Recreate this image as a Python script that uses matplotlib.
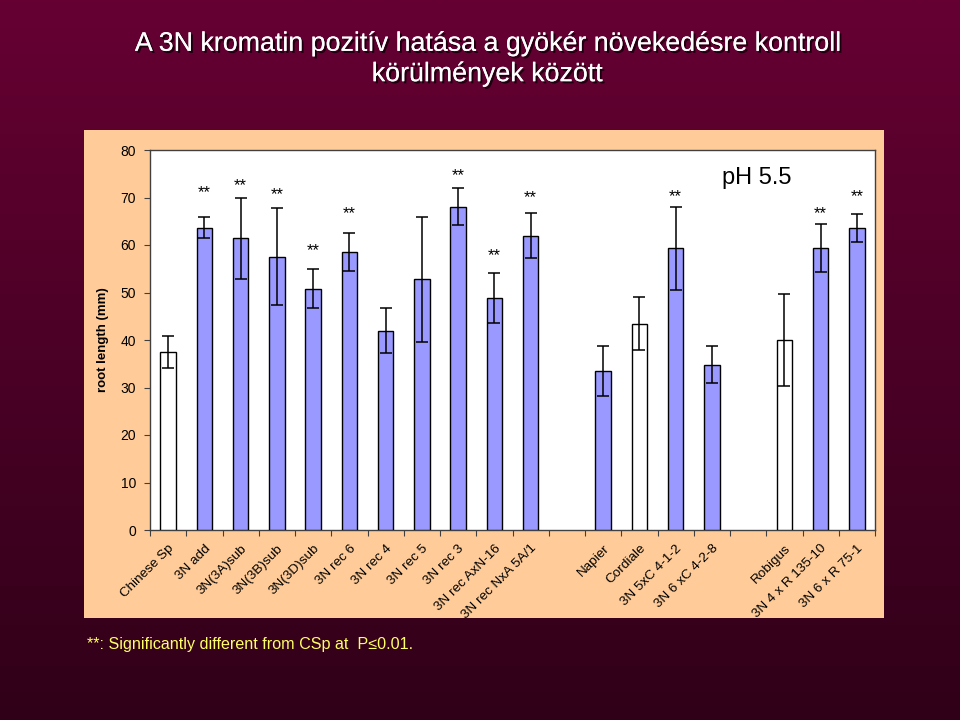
import numpy as np
import matplotlib
matplotlib.use("Agg")
import matplotlib.pyplot as plt
from matplotlib.patches import Rectangle
import matplotlib.patheffects as pe

plt.rcParams['font.family'] = ['Liberation Sans', 'DejaVu Sans']

# ---------------- data ----------------
categories = ["Chinese Sp", "3N add", "3N(3A)sub", "3N(3B)sub", "3N(3D)sub",
              "3N rec 6", "3N rec 4", "3N rec 5", "3N rec 3", "3N rec AxN-16",
              "3N rec NxA 5A/1", "", "Napier", "Cordiale", "3N 5xC 4-1-2",
              "3N 6 xC 4-2-8", "", "Robigus", "3N 4 x R 135-10", "3N 6 x R 75-1"]
root_length = [37.5, 63.6, 61.4, 57.5, 50.8,
               58.5, 42.0, 52.8, 68.1, 48.8,
               62.0, np.nan, 33.5, 43.4, 59.3,
               34.8, np.nan, 40.0, 59.4, 63.6]
error = [3.3, 2.2, 8.5, 10.2, 4.1,
         4.0, 4.7, 13.2, 3.9, 5.3,
         4.7, np.nan, 5.3, 5.6, 8.7,
         3.9, np.nan, 9.6, 5.0, 3.0]
is_control = [True, False, False, False, False,
              False, False, False, False, False,
              False, False, False, True, False,
              False, False, True, False, False]
significant = [False, True, True, True, True,
               True, False, False, True, True,
               True, False, False, False, True,
               False, False, False, True, True]
star_y = [np.nan, 71.0, 72.5, 70.7, 58.8,
          66.7, np.nan, np.nan, 74.6, 57.7,
          70.0, np.nan, np.nan, np.nan, 70.2,
          np.nan, np.nan, np.nan, 66.7, 70.2]
y_ticks = [0, 10, 20, 30, 40, 50, 60, 70, 80]

title_text = "A 3N kromatin pozitív hatása a gyökér növekedésre kontroll\nkörülmények között"
ylabel_text = "root length (mm)"
condition_text = "pH 5.5"
footnote_text = "**: Significantly different from CSp at  P\u22640.01."

# ---------------- figure ----------------
fig = plt.figure(figsize=(9.6, 7.2), dpi=100)

# background gradient
bg = fig.add_axes([0, 0, 1, 1], zorder=0)
top = np.array([102, 0, 51]) / 255.0
bot = np.array([48, 0, 24]) / 255.0
t = np.linspace(0, 1, 256)[:, None]
grad = top[None, None, :] * (1 - t[..., None]) + bot[None, None, :] * t[..., None]
grad = np.repeat(grad, 2, axis=1)
bg.imshow(grad, aspect='auto', extent=[0, 1, 0, 1], origin='upper')
bg.set_xlim(0, 1)
bg.set_ylim(0, 1)
bg.axis('off')

# chart panel
fig.patches.append(Rectangle((84 / 960, (720 - 618) / 720), 800 / 960, 488 / 720,
                             transform=fig.transFigure, facecolor='#FFCC99',
                             edgecolor='none', zorder=1))

ax = fig.add_axes([150 / 960, (720 - 530) / 720, 725 / 960, 380 / 720], zorder=2)
ax.set_facecolor('white')

x = np.arange(len(categories))
colors = ['white' if c else '#9999FF' for c in is_control]
vals = np.array(root_length, dtype=float)
errs = np.array(error, dtype=float)
ax.bar(x, vals, width=0.43, color=colors, edgecolor='black', linewidth=1.0, zorder=3)
ax.errorbar(x, vals, yerr=errs, fmt='none', ecolor='black', elinewidth=1.1,
            capsize=4, capthick=1.1, zorder=4)

for xi, s, sy in zip(x, significant, star_y):
    if s:
        ax.text(xi, sy, "**", ha='center', va='center', fontsize=12, color='black', zorder=5)

ax.text(0.837, 0.926, condition_text, transform=ax.transAxes, ha='center', va='center',
        fontsize=17, color='black')

ax.set_xlim(-0.5, len(categories) - 0.5)
ax.set_ylim(0, 80)
ax.set_yticks(y_ticks)
ax.set_yticklabels([str(v) for v in y_ticks], fontsize=10)
ax.tick_params(axis='y', direction='out', length=4, width=0.8, color='#404040', pad=6)

ax.set_xticks(x)
ax.set_xticklabels(categories, rotation=45, ha='right', va='top',
                   rotation_mode='anchor', fontsize=9.7)
ax.tick_params(axis='x', which='major', length=0, pad=9)
ax.set_xticks(np.arange(len(categories) + 1) - 0.5, minor=True)
ax.tick_params(axis='x', which='minor', direction='out', length=4, width=0.8, color='#404040')

for sp in ax.spines.values():
    sp.set_color('#404040')
    sp.set_linewidth(1.0)

fig.text(103 / 960, 1 - 340 / 720, ylabel_text, rotation=90, ha='center', va='center',
         fontsize=9.5, fontweight='bold', color='black', zorder=3)

# title
fig.text(487 / 960, 1 - 59 / 720, title_text, ha='center', va='center',
         fontsize=19.3, color='white', linespacing=1.22,
         path_effects=[pe.withSimplePatchShadow(offset=(1.5, -1.5), shadow_rgbFace='black', alpha=0.7),
                       pe.Normal()], zorder=3)

# footnote
fig.text(87 / 960, 1 - 645 / 720, footnote_text, ha='left', va='center',
         fontsize=11.6, color='#FFFF66', zorder=3)

fig.savefig("out.png", dpi=100)
